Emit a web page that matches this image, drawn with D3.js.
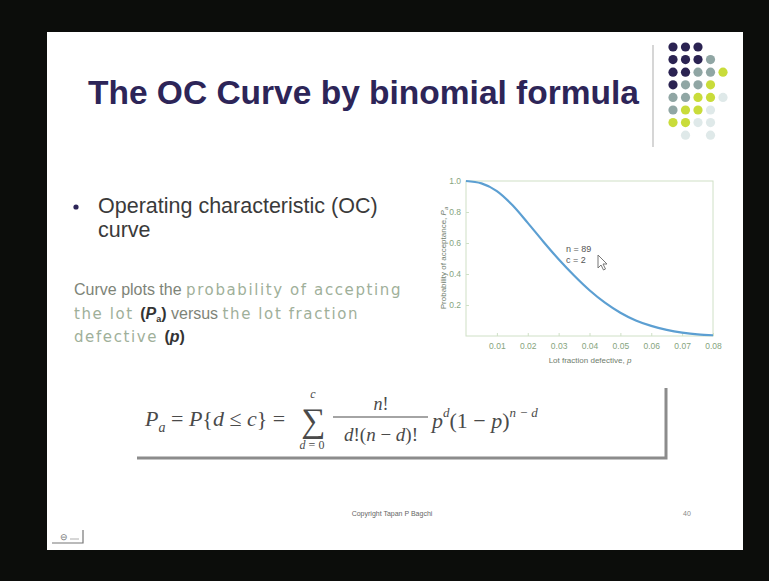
<!DOCTYPE html>
<html>
<head>
<meta charset="utf-8">
<script src="https://cdn.jsdelivr.net/npm/d3@7"></script>
<style>
  html, body { margin: 0; padding: 0; background: #0c0d0b; }
  svg { display: block; }
</style>
</head>
<body>
<svg id="slide" width="769" height="581"></svg>
<script>
// OC curve for a single sampling plan, n = 89, c = 2
const lotFraction = [0, 0.005, 0.01, 0.015, 0.02, 0.025, 0.03, 0.035, 0.04, 0.045, 0.05, 0.055, 0.06, 0.065, 0.07, 0.075, 0.08];
const probAccept  = [1.0, 0.985, 0.935, 0.845, 0.73, 0.61, 0.495, 0.39, 0.295, 0.215, 0.15, 0.10, 0.065, 0.04, 0.022, 0.01, 0.005];
const xTicks = [0.01, 0.02, 0.03, 0.04, 0.05, 0.06, 0.07, 0.08];
const yTicks = [0.2, 0.4, 0.6, 0.8, 1.0];
const planLabels = ["n = 89", "c = 2"];

// Decorative dot grid: [row, col, tone]
const dotRows = [
  [0,0,0],[0,1,0],[0,2,0],
  [1,0,0],[1,1,0],[1,2,0],[1,3,1],
  [2,0,0],[2,1,0],[2,2,1],[2,3,1],[2,4,2],
  [3,0,0],[3,1,1],[3,2,1],[3,3,2],
  [4,0,1],[4,1,1],[4,2,2],[4,3,2],[4,4,3],
  [5,0,1],[5,1,2],[5,2,2],[5,3,3],
  [6,0,2],[6,1,2],[6,2,3],[6,3,3],
  [7,1,3],[7,3,3]
];
const dotTones = ["#2b2352", "#90a6a4", "#c9dc3a", "#dfe9e9"];

const svg = d3.select("#slide");

// slide page
svg.append("rect").attr("x", 47).attr("y", 32).attr("width", 696).attr("height", 518).attr("fill", "#ffffff");

// title
svg.append("text")
  .attr("x", 88).attr("y", 104)
  .attr("font-family", "Liberation Sans, Arial, sans-serif")
  .attr("font-weight", "bold").attr("font-size", 33.5)
  .attr("fill", "#2d2558")
  .text("The OC Curve by binomial formula");

// divider and dot grid
svg.append("line").attr("x1", 653).attr("x2", 653).attr("y1", 45).attr("y2", 147)
  .attr("stroke", "#c8c8c8").attr("stroke-width", 1.5);
svg.append("g").selectAll("circle").data(dotRows).join("circle")
  .attr("cx", d => 673 + d[1] * 12.5)
  .attr("cy", d => 47 + d[0] * 12.6)
  .attr("r", 4.6)
  .attr("fill", d => dotTones[d[2]]);

// bullet text
const sans = "Liberation Sans, Arial, sans-serif";
svg.append("circle").attr("cx", 76).attr("cy", 207).attr("r", 2.6).attr("fill", "#2d2558");
svg.append("text").attr("x", 98).attr("y", 213).attr("font-family", sans).attr("font-size", 21.5)
  .attr("fill", "#3a3a3a").text("Operating characteristic (OC)");
svg.append("text").attr("x", 98).attr("y", 237).attr("font-family", sans).attr("font-size", 21.5)
  .attr("fill", "#3a3a3a").text("curve");

// description paragraph: [text, family, colour, size, weight, style, dy, letter-spacing]
const verd = "DejaVu Sans, Verdana, sans-serif";
const light = "#9fb09a", dark = "#7e8478";
const para = [
  [["Curve plots the ", sans, dark, 16, "normal", "normal", 0, 0], ["probability of accepting", verd, light, 15, "normal", "normal", 0, 1.6]],
  [["the lot ", verd, light, 15, "normal", "normal", 0, 1.6], ["(", sans, "#333", 16, "bold", "normal", 0, 0], ["P", sans, "#333", 16, "bold", "italic", 0, 0], ["a", sans, "#333", 9, "bold", "normal", 3, 0], [")", sans, "#333", 16, "bold", "normal", -3, 0], [" versus ", sans, dark, 16, "normal", "normal", 0, 0], ["the lot fraction", verd, light, 15, "normal", "normal", 0, 1.6]],
  [["defective ", verd, light, 15, "normal", "normal", 0, 1.6], ["(", sans, "#333", 16, "bold", "normal", 0, 0], ["p", sans, "#333", 16, "bold", "italic", 0, 0], [")", sans, "#333", 16, "bold", "normal", 0, 0]]
];
para.forEach((line, i) => {
  const t = svg.append("text").attr("x", 74).attr("y", 295 + i * 23.5);
  line.forEach(s => {
    const ts = t.append("tspan").attr("font-family", s[1]).attr("fill", s[2])
      .attr("font-size", s[3]).attr("font-weight", s[4]).attr("font-style", s[5])
      .attr("letter-spacing", s[7]).text(s[0]);
    if (s[6]) ts.attr("dy", s[6]);
  });
});

// OC chart
const x = d3.scaleLinear().domain([0, 0.08]).range([466, 713]);
const y = d3.scaleLinear().domain([0, 1]).range([336, 181]);
const chart = svg.append("g");
const axisCol = "#cfe0c6", tickText = "#86a47e";

chart.append("rect").attr("x", x(0)).attr("y", y(1)).attr("width", x(0.08) - x(0)).attr("height", y(0) - y(1))
  .attr("fill", "none").attr("stroke", axisCol).attr("stroke-width", 1);

const xAxis = chart.append("g").attr("transform", `translate(0,${y(0)})`)
  .call(d3.axisBottom(x).tickValues(xTicks).tickSize(-3).tickPadding(7).tickFormat(d3.format(".2f")));
const yAxis = chart.append("g").attr("transform", `translate(${x(0)},0)`)
  .call(d3.axisLeft(y).tickValues(yTicks).tickSize(-3).tickPadding(5).tickFormat(d3.format(".1f")));
[xAxis, yAxis].forEach(a => {
  a.select(".domain").remove();
  a.selectAll(".tick line").attr("stroke", axisCol);
  a.selectAll(".tick text").attr("fill", tickText).attr("font-family", sans).attr("font-size", 8.5);
});

chart.append("path")
  .datum(lotFraction.map((p, i) => [p, probAccept[i]]))
  .attr("d", d3.line().x(d => x(d[0])).y(d => y(d[1])).curve(d3.curveMonotoneX))
  .attr("fill", "none").attr("stroke", "#5c9fd2").attr("stroke-width", 2.2);

chart.append("text").attr("x", 590).attr("y", 363).attr("text-anchor", "middle")
  .attr("font-family", sans).attr("font-size", 8).attr("fill", "#6f7d6c")
  .html('Lot fraction defective, <tspan font-style="italic">p</tspan>');
chart.append("text").attr("transform", "translate(446,258) rotate(-90)").attr("text-anchor", "middle")
  .attr("font-family", sans).attr("font-size", 8).attr("fill", "#6f7d6c")
  .html('Probability of acceptance, <tspan font-style="italic">P</tspan><tspan font-size="6" dy="2" font-style="italic">a</tspan>');

chart.selectAll("text.plan").data(planLabels).join("text").attr("class", "plan")
  .attr("x", 566).attr("y", (d, i) => 252 + i * 11)
  .attr("font-family", sans).attr("font-size", 9).attr("fill", "#555")
  .text(d => d);

// mouse pointer
svg.append("path").attr("d", "M598,255 L598,268 L601,265 L603.5,270 L605.5,269 L603,264 L607,264 Z")
  .attr("fill", "#fff").attr("stroke", "#777").attr("stroke-width", 1);

// formula box
svg.append("path").attr("d", "M137,458 L666,458 L666,388")
  .attr("fill", "none").attr("stroke", "#8c8c8c").attr("stroke-width", 3);

const serif = "Liberation Serif, Times New Roman, serif";
const fcol = "#4a4a4a";
const f = svg.append("g").attr("font-family", serif).attr("fill", fcol);
f.append("text").attr("x", 145).attr("y", 426).attr("font-size", 22)
  .html('<tspan font-style="italic">P</tspan><tspan font-size="14" dy="6" font-style="italic">a</tspan><tspan dy="-6"> = </tspan><tspan font-style="italic">P</tspan>{<tspan font-style="italic">d</tspan> ≤ <tspan font-style="italic">c</tspan>} =');
f.append("text").attr("x", 313).attr("y", 432).attr("text-anchor", "middle").attr("font-size", 34).text("∑");
f.append("text").attr("x", 313).attr("y", 398).attr("text-anchor", "middle").attr("font-size", 12).attr("font-style", "italic").text("c");
f.append("text").attr("x", 312).attr("y", 449).attr("text-anchor", "middle").attr("font-size", 12)
  .html('<tspan font-style="italic">d</tspan> = 0');
f.append("line").attr("x1", 333).attr("x2", 428).attr("y1", 417).attr("y2", 417).attr("stroke", fcol).attr("stroke-width", 1.2);
f.append("text").attr("x", 381).attr("y", 410).attr("text-anchor", "middle").attr("font-size", 18)
  .html('<tspan font-style="italic">n</tspan>!');
f.append("text").attr("x", 381).attr("y", 441).attr("text-anchor", "middle").attr("font-size", 19)
  .html('<tspan font-style="italic">d</tspan>!(<tspan font-style="italic">n</tspan> − <tspan font-style="italic">d</tspan>)!');
f.append("text").attr("x", 432).attr("y", 428).attr("font-size", 22)
  .html('<tspan font-style="italic">p</tspan><tspan font-size="13" dy="-11" font-style="italic">d</tspan><tspan dy="11">(1 − </tspan><tspan font-style="italic">p</tspan>)<tspan font-size="13" dy="-11" font-style="italic">n − d</tspan>');

// footer
svg.append("text").attr("x", 392).attr("y", 516).attr("text-anchor", "middle")
  .attr("font-family", sans).attr("font-size", 7).attr("fill", "#666").text("Copyright Tapan P Bagchi");
svg.append("text").attr("x", 687).attr("y", 516).attr("text-anchor", "middle")
  .attr("font-family", sans).attr("font-size", 7).attr("fill", "#888").text("40");

// navigation widget
const nav = svg.append("g");
nav.append("path").attr("d", "M52,543 L83,543 L83,530").attr("fill", "none").attr("stroke", "#777").attr("stroke-width", 1.2);
nav.append("text").attr("x", 60).attr("y", 540).attr("font-family", sans).attr("font-size", 9).attr("fill", "#777").text("⊖");
nav.append("line").attr("x1", 70).attr("x2", 79).attr("y1", 539).attr("y2", 539).attr("stroke", "#999").attr("stroke-width", 0.8);
</script>
</body>
</html>
